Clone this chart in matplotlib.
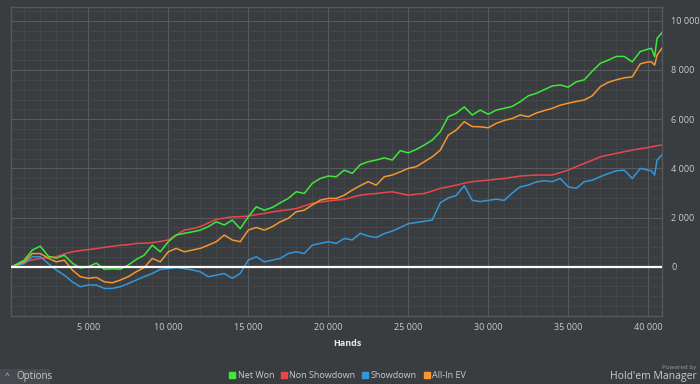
import matplotlib
matplotlib.use("Agg")
import matplotlib.pyplot as plt
from matplotlib.lines import Line2D
from matplotlib.patches import Rectangle
from matplotlib.ticker import MultipleLocator, FuncFormatter

# hands sampled every 500, a few extra points at the very end
hands = [200] + list(range(500, 40001, 500)) + [40200, 40400, 40550, 40850]

net_won = [
    0, 100, 270, 680, 840, 430, 350, 470, 150, -50,
    0, 150, -100, -80, -100, 70, 300, 475, 880, 610,
    1020, 1290, 1360, 1420, 1490, 1630, 1830, 1700, 1900, 1550,
    2030, 2440, 2300, 2410, 2600, 2780, 3050, 2980, 3390, 3590,
    3690, 3660, 3930, 3800, 4150, 4270, 4340, 4430, 4340, 4720,
    4630, 4770, 4950, 5150, 5490, 6100, 6240, 6500, 6170, 6370,
    6200, 6370, 6440, 6520, 6710, 6950, 7050, 7200, 7350, 7390,
    7300, 7520, 7600, 7950, 8270, 8400, 8550, 8550, 8330, 8750,
    8850, 8880, 8540, 9280, 9510,
]
non_showdown = [
    0, 80, 200, 280, 340, 380, 410, 520, 610, 660,
    700, 740, 790, 830, 880, 900, 950, 960, 980, 1030,
    1090, 1300, 1490, 1550, 1630, 1780, 1930, 1980, 2030, 2040,
    2060, 2120, 2170, 2230, 2280, 2320, 2370, 2470, 2580, 2630,
    2680, 2710, 2740, 2830, 2910, 2950, 2980, 3020, 3050, 2980,
    2910, 2950, 2980, 3080, 3190, 3250, 3320, 3400, 3460, 3490,
    3520, 3560, 3590, 3640, 3690, 3710, 3730, 3730, 3730, 3830,
    3930, 4070, 4200, 4330, 4470, 4540, 4610, 4680, 4740, 4800,
    4850, 4880, 4900, 4920, 4950,
]
showdown = [
    0, 50, 130, 410, 410, 130, -130, -340, -610, -810,
    -740, -740, -880, -880, -810, -680, -540, -400, -270, -110,
    -70, -30, -70, -130, -200, -400, -340, -270, -470, -270,
    270, 410, 200, 270, 340, 540, 610, 540, 880, 950,
    1020, 950, 1150, 1090, 1360, 1250, 1190, 1350, 1450, 1600,
    1750, 1800, 1850, 1900, 2600, 2800, 2900, 3300, 2700, 2650,
    2700, 2750, 2700, 3000, 3250, 3320, 3450, 3500, 3460, 3590,
    3250, 3190, 3460, 3520, 3660, 3790, 3900, 3930, 3590, 4000,
    3930, 3900, 3730, 4340, 4540,
]
allin_ev = [
    0, 80, 200, 540, 540, 350, 200, 270, -130, -400,
    -470, -430, -610, -650, -540, -400, -200, -30, 340, 200,
    610, 750, 610, 680, 750, 880, 1020, 1290, 1090, 1020,
    1490, 1600, 1490, 1630, 1830, 1970, 2240, 2300, 2510, 2710,
    2780, 2780, 2910, 3120, 3300, 3460, 3320, 3660, 3730, 3860,
    4000, 4070, 4270, 4470, 4740, 5350, 5560, 5900, 5700, 5690,
    5650, 5830, 5950, 6030, 6170, 6100, 6250, 6350, 6440, 6570,
    6650, 6720, 6780, 6950, 7320, 7500, 7600, 7680, 7720, 8250,
    8330, 8330, 8200, 8600, 8880,
]

series_names = ["Net Won", "Non Showdown", "Showdown", "All-In EV"]
series_colors = ["#3ee83a", "#e8474c", "#3497da", "#f5962f"]

bg = "#3a3d40"
txt = "#c9cbcd"

plt.rcParams["font.family"] = ["Open Sans", "DejaVu Sans"]

fig = plt.figure(figsize=(7, 3.84), dpi=100, facecolor=bg)
ax = fig.add_axes([11 / 700, 1 - 316 / 384, 651 / 700, 309 / 384])
ax.set_facecolor(bg)

# draw order: red, blue, orange, green on top
for vals, ci in [(non_showdown, 1), (showdown, 2), (allin_ev, 3), (net_won, 0)]:
    ax.plot(hands, vals, color=series_colors[ci], lw=1.1, zorder=3)
ax.axhline(0, color="white", lw=1.6, zorder=4)

ax.set_xlim(170, 40860)
ax.set_ylim(-2000, 10560)

ax.xaxis.set_major_locator(MultipleLocator(5000))
ax.xaxis.set_minor_locator(MultipleLocator(1000))
ax.yaxis.set_major_locator(MultipleLocator(2000))
ax.yaxis.set_minor_locator(MultipleLocator(400))
ax.grid(which="major", color="#575a5e", lw=0.8, zorder=1)
ax.grid(which="minor", color="#46494d", lw=0.6, zorder=0)

fmt = FuncFormatter(lambda v, p: f"{int(v):,}".replace(",", " "))
ax.xaxis.set_major_formatter(fmt)
ax.yaxis.set_major_formatter(fmt)
ax.yaxis.tick_right()
ax.tick_params(which="both", length=0, colors=txt, labelsize=6.5)
ax.tick_params(axis="y", pad=6.5)
ax.tick_params(axis="x", pad=5)
ax.set_yticks([t for t in range(0, 10001, 2000)])

for s in ax.spines.values():
    s.set_color("#55585c")
    s.set_linewidth(1)

fig.text(0.497, 1 - 344 / 384, "Hands", ha="center", va="center",
         color="#e6e6e6", fontsize=6.5, fontweight="bold")

handles = [Line2D([], [], marker="s", ls="none", color=c, markersize=3.8)
           for c in series_colors]
fig.legend(handles, series_names, loc="center", bbox_to_anchor=(0.497, 1 - 376 / 384),
           ncol=4, frameon=False, fontsize=6.5, labelcolor=txt, handlelength=0.5,
           handletextpad=0.4, columnspacing=0.8, borderaxespad=0)

# options button bottom left
fig.patches.append(Rectangle((0, 0), 50 / 700, 15 / 384, transform=fig.transFigure,
                             facecolor="#474a4e", edgecolor="none"))
fig.text(5 / 700, 1 - 377 / 384, "^", color=txt, fontsize=6, va="center")
fig.text(16 / 700, 1 - 377 / 384, "Options", color=txt, fontsize=7, va="center")

fig.text(696 / 700, 1 - 367 / 384, "Powered by", color="#9a9c9e", fontsize=4.5,
         ha="right", va="center")
fig.text(697 / 700, 1 - 377 / 384, "Hold'em Manager", color=txt, fontsize=7.5,
         ha="right", va="center")

fig.savefig("out.png", dpi=100, facecolor=bg)
